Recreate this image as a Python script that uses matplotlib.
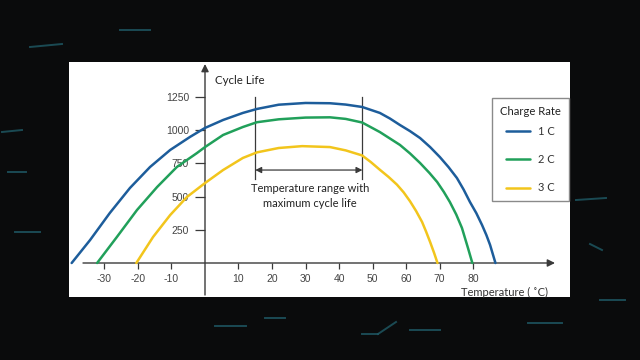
import matplotlib
matplotlib.use("Agg")
import matplotlib.pyplot as plt
from matplotlib.lines import Line2D

# ---------------- data ----------------
temp_1c = [-39.8, -34.3, -28.4, -22.4, -16.4, -10.4, -4.5, 0, 5.4, 11.3, 15.5, 22, 30, 37.3,
           42, 46.9, 52.2, 55.2, 58.2, 61.2, 64.2, 67.2, 70.1, 72.7, 75.2, 77.2, 79.1, 81,
           82.7, 84, 85.1, 86.7]
life_1c = [0, 173, 377, 565, 723, 851, 949, 1017, 1077, 1130, 1160, 1192, 1205, 1203,
           1193, 1175, 1130, 1088, 1039, 993, 941, 873, 798, 722, 640, 553, 459, 375,
           286, 210, 136, 0]

temp_2c = [-32.2, -26.3, -20.3, -14.3, -8.4, -2.4, 0, 5.4, 11.3, 15.5, 22, 30, 37.3,
           42, 46.9, 52.2, 58.2, 61.2, 64.2, 67, 69.3, 71.3, 73.1, 75, 76.7, 78.5, 79.8]
life_2c = [0, 196, 399, 572, 723, 828, 873, 964, 1024, 1060, 1082, 1095, 1097,
           1085, 1058, 986, 889, 825, 753, 678, 610, 535, 459, 365, 264, 113, 0]

temp_3c = [-20.5, -15.5, -10.4, -5.4, 0, 5.4, 11.3, 15.5, 22, 29, 37.3, 42, 46.9, 49.5,
           52.2, 54.8, 57.3, 59.3, 61.2, 63, 64.8, 66, 67.2, 68.4, 69.4]
life_3c = [0, 196, 361, 497, 602, 700, 791, 833, 866, 880, 873, 848, 810, 760,
           702, 648, 590, 532, 465, 392, 309, 236, 158, 75, 0]

series_labels = ["1 C", "2 C", "3 C"]
series_colors = ["#1d5d9b", "#21a05a", "#f2c51c"]

x_ticks = [-30, -20, -10, 10, 20, 30, 40, 50, 60, 70, 80]
y_ticks = [250, 500, 750, 1000, 1250]

range_lo, range_hi = 15, 47
range_top, range_bottom, range_arrow = 1250, 632, 700

# ---------------- figure ----------------
W, H = 640, 360
fig = plt.figure(figsize=(6.4, 3.6), dpi=100)
fig.patch.set_facecolor("#0a0b0c")

# decorative background streaks (figure pixel coords)
deco = [
    ((30, 47), (62, 44)), ((2, 132), (22, 130)), ((8, 172), (26, 172)),
    ((215, 326), (246, 326)), ((362, 334), (378, 334)), ((378, 334), (396, 322)),
    ((528, 323), (562, 323)), ((576, 200), (606, 198)), ((590, 244), (602, 250)),
    ((265, 318), (285, 318)), ((410, 330), (440, 330)), ((120, 30), (150, 30)),
    ((600, 300), (625, 300)), ((15, 232), (40, 232)),
]
for (x0, y0), (x1, y1) in deco:
    fig.add_artist(Line2D([x0 / W, x1 / W], [1 - y0 / H, 1 - y1 / H],
                          transform=fig.transFigure, color="#1f5a66", lw=1.4, alpha=0.8))

# axes = white panel
px_l, px_r, px_t, px_b = 69, 570, 62, 297
ax = fig.add_axes([px_l / W, 1 - px_b / H, (px_r - px_l) / W, (px_b - px_t) / H])
ax.set_facecolor("white")
x0_px, xs = 205, 3.35      # pixel of T=0, px per degree
y0_px, ys = 263, 0.1328    # pixel of V=0, px per cycle
ax.set_xlim((px_l - x0_px) / xs, (px_r - x0_px) / xs)
ax.set_ylim((y0_px - px_b) / ys, (y0_px - px_t) / ys)

for s in ax.spines.values():
    s.set_visible(False)
ax.spines["left"].set_position(("data", 0))
ax.spines["bottom"].set_position(("data", 0))

axis_col = "#3a3a3a"
ax.annotate("", xy=((555 - x0_px) / xs, 0), xytext=((83 - x0_px) / xs, 0),
            arrowprops=dict(arrowstyle="-|>", color=axis_col, lw=1.0, mutation_scale=11,
                            shrinkA=0, shrinkB=0))
ax.annotate("", xy=(0, (y0_px - 64) / ys), xytext=(0, (y0_px - 295) / ys),
            arrowprops=dict(arrowstyle="-|>", color=axis_col, lw=1.0, mutation_scale=11,
                            shrinkA=0, shrinkB=0))

ax.set_xticks(x_ticks)
ax.set_xticklabels([str(t) for t in x_ticks])
ax.set_yticks(y_ticks)
ax.set_yticklabels([str(t) for t in y_ticks])
ax.tick_params(axis="x", direction="out", length=4.5, width=0.9, color=axis_col,
               pad=3.5, labelcolor="#444444", labelsize=7.5)
ax.tick_params(axis="y", direction="out", length=7, width=0.9, color=axis_col,
               pad=4.5, labelcolor="#444444", labelsize=7.5)
for lab in ax.get_xticklabels() + ax.get_yticklabels():
    lab.set_family("Liberation Sans")

# curves
handles = []
for t, v, c, lab in zip([temp_1c, temp_2c, temp_3c], [life_1c, life_2c, life_3c],
                        series_colors, series_labels):
    h, = ax.plot(t, v, color=c, lw=1.8, solid_capstyle="round", solid_joinstyle="round",
                 label=lab, zorder=3)
    handles.append(h)

# range bracket
ax.plot([range_lo, range_lo], [range_bottom, range_top], color=axis_col, lw=0.9, zorder=2)
ax.plot([range_hi, range_hi], [range_bottom, range_top], color=axis_col, lw=0.9, zorder=2)
ax.annotate("", xy=(range_lo, range_arrow), xytext=(range_hi, range_arrow),
            arrowprops=dict(arrowstyle="<|-|>", color=axis_col, lw=0.9, mutation_scale=9,
                            shrinkA=0, shrinkB=0))

txt_font = "Lato"
ax.text((215 - x0_px) / xs, (y0_px - 81) / ys, "Cycle Life", family=txt_font, fontsize=8.3,
        color="#222222", ha="left", va="center")
ax.text((310 - x0_px) / xs, (y0_px - 196) / ys, "Temperature range with\nmaximum cycle life",
        family=txt_font, fontsize=8, color="#222222", ha="center", va="center",
        linespacing=1.35)
ax.text((461 - x0_px) / xs, (y0_px - 292) / ys, "Temperature ( \u02daC)", family=txt_font,
        fontsize=8, color="#333333", ha="left", va="center")

leg = ax.legend(handles=handles, labels=series_labels, title="Charge Rate",
                loc="upper left", bbox_to_anchor=(492 / W, 1 - 98 / H),
                bbox_transform=fig.transFigure, borderaxespad=0, frameon=True,
                fancybox=False, edgecolor="#8a8a8a", framealpha=1, facecolor="white",
                handlelength=2.2, handletextpad=0.7, labelspacing=1.55,
                borderpad=0.72, prop=dict(family=txt_font, size=8),
                title_fontproperties=dict(family=txt_font, size=8.1))
leg._legend_box.sep = 6.5  # gap between title and first entry (points)
leg.get_frame().set_linewidth(1.0)
for t in leg.get_texts():
    t.set_color("#333333")
leg.get_title().set_color("#222222")

fig.savefig("out.png", dpi=100, facecolor=fig.get_facecolor())
